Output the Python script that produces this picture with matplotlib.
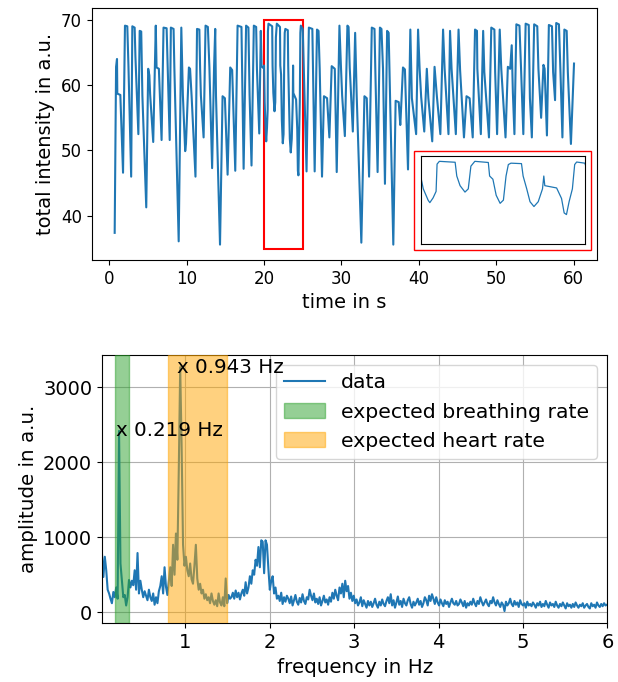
import numpy as np
import matplotlib.pyplot as plt
from matplotlib.patches import Rectangle

# camera signal (total intensity over time)
time_s = [
    0.70, 0.88, 1.00, 1.04, 1.43, 1.78, 2.03, 2.33, 2.48, 2.83,
    2.98, 3.28, 3.38, 3.76, 3.93, 4.13, 4.28, 4.78, 5.03, 5.18,
    5.28, 5.68, 6.01, 6.11, 6.41, 6.76, 7.01, 7.41, 7.81, 7.96,
    8.31, 8.41, 8.97, 9.31, 9.51, 9.81, 9.91, 10.29, 10.44, 10.64,
    11.14, 11.34, 11.64, 11.74, 11.84, 12.19, 12.44, 12.74, 12.94, 13.29,
    13.54, 13.69, 13.79, 14.31, 14.64, 14.94, 15.29, 15.63, 15.88, 16.28,
    16.58, 17.08, 17.36, 17.68, 17.98, 18.13, 18.38, 18.68, 18.98, 19.08,
    19.38, 19.58, 19.68, 19.92,
    20.00, 20.08, 20.23, 20.28, 20.38, 20.47, 20.50, 20.57, 21.05, 21.10,
    21.20, 21.35, 21.45, 21.53, 21.65, 22.06, 22.10, 22.20, 22.30, 22.42,
    22.52, 22.60, 22.67, 22.75, 23.07, 23.12, 23.23, 23.33, 23.45, 23.58,
    23.71, 23.75, 23.78, 23.93, 24.14, 24.29, 24.37, 24.44, 24.52, 24.62,
    24.69, 24.75, 25.00,
    25.49, 25.79, 26.24, 26.54, 26.84, 27.04, 27.19, 27.49, 27.74, 28.14,
    28.44, 28.74, 29.14, 29.39, 29.74, 29.94, 30.09, 30.44, 30.77, 30.92,
    31.07, 31.47, 31.77, 31.97, 32.57, 32.97, 33.27, 33.57, 33.92, 34.27,
    34.37, 34.67, 34.97, 35.17, 35.37, 35.62, 35.90, 36.10, 36.70, 37.00,
    37.40, 37.60, 37.65, 37.95, 38.20, 38.60, 38.90, 39.10, 39.65, 39.90,
    40.10, 40.30, 40.70, 41.03, 41.23, 41.73, 42.03, 42.33, 42.78, 43.13,
    43.33, 43.83, 44.03, 44.23, 44.78, 45.13, 45.33, 45.53, 45.83, 46.16,
    46.56, 46.96, 47.26, 47.51, 47.56, 48.01, 48.31, 48.46, 49.06, 49.36,
    49.76, 49.86, 50.11, 50.45, 50.65, 51.20, 51.50, 51.80, 52.00, 52.15,
    52.35, 52.60, 53.00, 53.20, 53.50, 53.80, 54.20, 54.35, 54.60, 54.90,
    55.30, 55.45, 55.80, 56.10, 56.25, 56.55, 56.80, 57.20, 57.35, 57.60,
    57.75, 58.10, 58.30, 58.55, 58.80, 59.10, 59.25, 59.65, 60.05,
]
intensity = [
    37.4, 62.8, 64.0, 58.7, 58.5, 46.6, 69.1, 69.0, 62.9, 46.0,
    69.0, 68.8, 64.4, 52.5, 68.3, 68.2, 58.4, 41.3, 62.5, 61.5,
    58.6, 51.3, 69.1, 62.7, 62.5, 51.6, 68.8, 68.7, 51.6, 68.8,
    68.6, 62.7, 36.1, 68.8, 58.5, 49.9, 51.0, 62.7, 62.5, 58.3,
    46.0, 68.6, 68.5, 62.5, 58.4, 52.0, 69.1, 68.9, 62.7, 47.3,
    62.7, 68.6, 58.4, 35.6, 58.3, 58.0, 46.3, 62.7, 62.3, 46.9,
    69.1, 68.9, 47.2, 69.1, 68.8, 58.5, 47.7, 69.1, 68.9, 62.5,
    52.6, 68.3, 62.9, 62.6,
    63.0, 57.4, 52.4, 51.4, 53.5, 56.3, 68.2, 69.4, 69.0, 63.0,
    58.8, 56.0, 57.4, 67.3, 69.4, 68.9, 63.0, 61.6, 54.6, 51.1,
    52.5, 63.0, 68.0, 68.6, 68.4, 63.0, 57.4, 51.8, 49.7, 51.8,
    57.4, 63.0, 58.8, 58.4, 57.8, 53.2, 46.9, 46.2, 51.8, 57.4,
    68.0, 69.1, 68.6,
    46.8, 68.8, 68.6, 46.8, 68.5, 68.3, 62.5, 46.0, 58.3, 58.0,
    52.0, 62.9, 62.5, 46.7, 69.1, 62.7, 58.4, 52.2, 69.1, 68.9,
    62.7, 52.9, 68.0, 58.4, 35.9, 58.3, 58.0, 46.0, 68.8, 68.6,
    62.7, 46.7, 68.8, 68.6, 62.5, 44.9, 68.3, 68.0, 35.6, 57.6,
    57.4, 53.9, 55.0, 62.7, 62.4, 47.1, 68.5, 58.0, 52.5, 68.5,
    62.5, 58.2, 52.9, 62.5, 58.0, 51.4, 62.8, 58.3, 52.5, 68.5,
    62.5, 52.5, 68.3, 62.5, 52.5, 68.5, 62.3, 58.2, 52.0, 58.3,
    58.0, 52.0, 68.5, 68.3, 62.5, 52.5, 68.3, 62.0, 52.0, 68.8,
    68.5, 62.0, 52.5, 68.5, 62.5, 52.0, 62.8, 62.5, 66.1, 58.8,
    52.5, 69.3, 69.1, 62.7, 52.5, 69.4, 69.2, 58.0, 52.0, 69.3,
    69.0, 62.5, 55.0, 63.1, 62.5, 52.3, 69.2, 69.0, 62.0, 57.7,
    69.5, 69.3, 62.0, 52.0, 68.5, 68.3, 62.0, 51.0, 63.3,
]

# spectrum of the signal, one value per frequency bin (bin width 1/59.4 Hz)
amplitude = [
    780, 470, 740, 560, 300, 250, 180, 120, 270, 200,
    330, 180, 2420, 650, 420, 200, 230, 90, 200, 430,
    330, 420, 360, 560, 300, 790, 250, 420, 300, 200,
    280, 220, 160, 300, 200, 150, 250, 100, 200, 120,
    280, 350, 480, 250, 600, 340, 230, 420, 600, 350,
    900, 500, 1050, 700, 1900, 3270, 2200, 900, 620, 740,
    560, 480, 650, 440, 380, 620, 900, 450, 300, 380,
    250, 300, 180, 240, 160, 200, 120, 250, 150, 100,
    160, 80, 250, 130, 90, 200, 80, 450, 120, 230,
    180, 200, 260, 180, 290, 200, 260, 170, 250, 300,
    220, 400, 250, 330, 480, 380, 560, 500, 700, 620,
    870, 600, 960, 940, 520, 960, 900, 580, 300, 420,
    480, 250, 330, 180, 220, 150, 260, 110, 200, 140,
    220,
    180, 120, 210, 90, 160, 230, 140, 100, 190, 130,
    240, 150, 110, 200, 170, 300, 220, 160, 250, 130,
    180, 110, 200, 90, 150, 220, 130, 170, 100, 200,
    140, 260, 180, 300, 220, 160, 330, 250, 380, 200,
    420, 280, 350, 180, 260, 150, 220, 120, 170, 90,
    130, 200, 80, 160, 110, 60, 150, 90, 140, 70,
    120, 180, 100, 60, 140, 90, 170, 110, 80, 150,
    200, 120, 240, 90, 160, 60, 130, 210, 100, 150,
    70, 180, 120, 90, 160, 200, 110, 60, 140, 90,
    130, 180, 100, 150, 70, 120, 200, 160, 90, 220,
    150, 240, 180, 110, 200, 130, 90, 170, 120, 80,
    160, 110, 140, 70, 130, 180, 120, 100, 150, 90,
    110, 170, 130, 80, 150, 60, 120, 90, 140, 100,
    180, 120, 80, 150, 110, 200, 140, 90, 130, 170,
    110, 80, 150, 120, 200, 130, 90, 160, 110, 70,
    130, 100, 15, 140, 90, 120, 180, 110, 80, 150,
    100, 130, 70, 160, 110, 90, 120, 60, 140, 90,
    110, 80, 130, 100, 60, 120, 90, 140, 70, 110,
    80, 150, 100, 60, 130, 90, 110, 70, 140, 90,
    60, 110, 80, 130, 90, 50, 120, 80, 100, 60,
    110, 70, 130, 90, 60, 100, 80, 120, 60, 90,
    110, 70, 50, 120, 80, 100, 60, 130, 90, 70,
    110, 80, 120, 90, 100,
]
freq = np.arange(1, len(amplitude) + 1) / 59.4

breathing_band = (1 / 6, 1 / 3)
heart_band = (0.8, 1.5)

fig = plt.figure(figsize=(6.18, 6.82), dpi=100)

# --- signal over time
ax1 = fig.add_axes([0.1484, 0.6188, 0.8176, 0.369])
ax1.plot(time_s, intensity, color='tab:blue', linewidth=1.5)
ax1.add_patch(Rectangle((20, 35), 5, 35, fill=False, edgecolor='red', linewidth=1.5))
ax1.set_xlabel('time in s', fontsize=14)
ax1.set_ylabel('total intensity in a.u.', fontsize=14)
ax1.tick_params(labelsize=12)

# zoomed view of 20-25 s
axin = ax1.inset_axes([0.651, 0.0624, 0.325, 0.351])
axin.plot(time_s, intensity, color='tab:blue', linewidth=0.9)
axin.set_xlim(20, 25)
axin.set_ylim(ax1.get_ylim())
axin.set_xticks([])
axin.set_yticks([])
ax1.add_patch(Rectangle((0.638, 0.0397), 0.35, 0.393, transform=ax1.transAxes,
                        fill=False, edgecolor='red', linewidth=1.0, clip_on=False))

# --- spectrum
ax2 = fig.add_axes([0.1650, 0.0861, 0.8180, 0.3934])
ax2.plot(freq, amplitude, color='tab:blue', label='data')
ax2.axvspan(*breathing_band, color='tab:green', alpha=0.5, zorder=3,
            label='expected breathing rate')
ax2.axvspan(*heart_band, color='orange', alpha=0.5, zorder=3,
            label='expected heart rate')

amp = np.array(amplitude)
for lo, hi in [breathing_band, heart_band]:
    sel = np.where((freq >= lo) & (freq <= hi))[0]
    k = sel[np.argmax(amp[sel])]
    ax2.annotate('x {:.3f} Hz'.format(freq[k]), (freq[k], amp[k]),
                 xytext=(-2.5, 0), textcoords='offset points',
                 va='center', fontsize=14.3, zorder=6)

ax2.set_xlim(freq[0], 6)
ax2.set_xticks([1, 2, 3, 4, 5, 6])
ax2.grid(True)
ax2.legend(loc='upper right', fontsize=14.7)
ax2.set_xlabel('frequency in Hz', fontsize=14.3)
ax2.set_ylabel('amplitude in a.u.', fontsize=14.3)
ax2.tick_params(labelsize=14)

plt.savefig('out.png', dpi=100)
